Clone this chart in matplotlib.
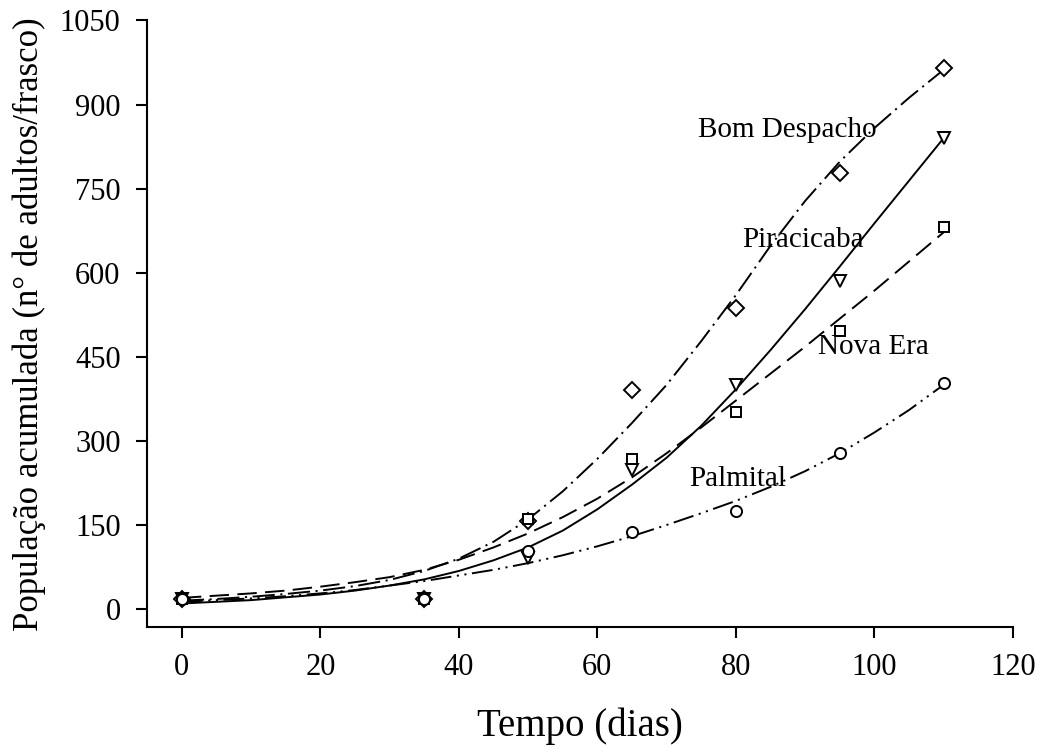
import numpy as np
import matplotlib
matplotlib.use("Agg")
import matplotlib.pyplot as plt

# observed points
days = [0, 35, 50, 65, 80, 95, 110]
bom_despacho = [18, 18, 158, 390, 537, 778, 966]
piracicaba = [18, 18, 91, 248, 399, 586, 840]
nova_era = [18, 18, 160, 268, 352, 496, 681]
palmital = [18, 18, 104, 138, 175, 278, 403]

# fitted curves every 5 days
days_fit = [0, 5, 10, 15, 20, 25, 30, 35, 40, 45, 50, 55,
            60, 65, 70, 75, 80, 85, 90, 95, 100, 105, 110]
bom_fit = [15, 18, 22, 27, 33, 41, 52, 68, 90, 120, 160, 210,
           268, 332, 400, 478, 560, 648, 728, 798, 858, 912, 962]
pir_fit = [10, 13, 16, 21, 26, 33, 42, 53, 68, 87, 110, 140,
           178, 222, 270, 327, 392, 462, 535, 611, 688, 764, 840]
nova_fit = [20, 24, 28, 33, 40, 48, 57, 70, 88, 110, 135, 164,
            197, 235, 278, 324, 372, 420, 468, 518, 568, 620, 672]
pal_fit = [13, 16, 19, 23, 28, 34, 42, 50, 60, 70, 82, 96,
           112, 130, 150, 171, 193, 218, 246, 278, 315, 355, 400]

labels = ["Bom Despacho", "Piracicaba", "Nova Era", "Palmital"]
label_pos = [(87.4, 855), (89.7, 658), (99.8, 467), (80.3, 232)]


def set_font():
    plt.rcParams["font.family"] = "Liberation Serif"
    plt.rcParams["font.size"] = 20
    plt.rcParams["lines.scale_dashes"] = False


def main():
    set_font()
    fig = plt.figure(figsize=(10.42, 7.47), dpi=100)
    ax = fig.add_axes([0.141, 0.1606, 0.831, 0.812])

    styles = [(0, (16, 4, 1.5, 4)), "-", (0, (14, 6)), (0, (15, 4, 1.5, 4, 1.5, 4))]
    markers = ["D", "v", "s", "o"]
    msizes = [8, 9, 7, 8]
    obs = [bom_despacho, piracicaba, nova_era, palmital]
    fits = [bom_fit, pir_fit, nova_fit, pal_fit]

    for y, yf, ls, m, ms in zip(obs, fits, styles, markers, msizes):
        ax.plot(days_fit, yf, color="black", linestyle=ls, linewidth=1.4)
        ax.plot(days, y, linestyle="none", marker=m, markersize=ms,
                markerfacecolor="white", markeredgecolor="black", markeredgewidth=1.4)

    for name, (lx, ly) in zip(labels, label_pos):
        ax.text(lx, ly, name, fontsize=21, ha="center", va="center")

    ax.set_xlim(-5.05, 120)
    ax.set_ylim(-32, 1050)
    ax.set_xticks(np.arange(0, 121, 20))
    ax.set_yticks(np.arange(0, 1051, 150))
    ax.spines["top"].set_visible(False)
    ax.spines["right"].set_visible(False)
    for s in ("left", "bottom"):
        ax.spines[s].set_linewidth(1.5)
    ax.tick_params(direction="out", length=8, width=1.5, labelsize=22, pad=11)

    ax.set_xlabel("Tempo (dias)", fontsize=28, labelpad=18)
    ax.set_ylabel("População acumulada (n° de adultos/frasco)", fontsize=25, labelpad=10)

    plt.savefig("out.png", dpi=100)


if __name__ == "__main__":
    main()
